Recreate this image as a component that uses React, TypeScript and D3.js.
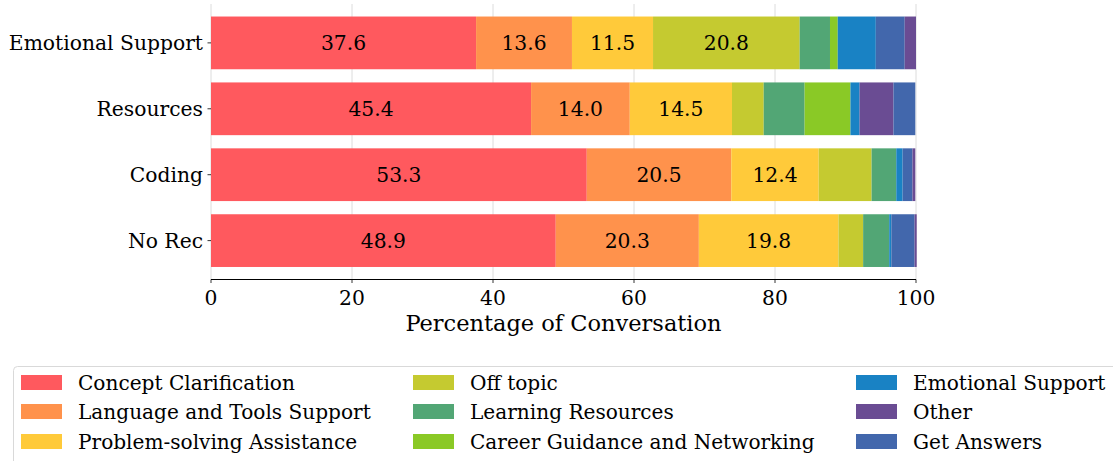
import React from 'react';
import * as d3 from 'd3';

// 행(카테고리) - 위에서 아래 순서
const categories = ['Emotional Support', 'Resources', 'Coding', 'No Rec'];

// 시리즈 이름과 색
const seriesNames = [
  'Concept Clarification',
  'Language and Tools Support',
  'Problem-solving Assistance',
  'Off topic',
  'Learning Resources',
  'Career Guidance and Networking',
  'Emotional Support',
  'Other',
  'Get Answers',
];
const seriesColors = ['#ff595e', '#ff924c', '#ffca3a', '#c5ca30', '#52a675', '#8ac926', '#1982c4', '#6a4c93', '#4267ac'];

// 시리즈별 값 (categories 순서)
const conceptClarification = [37.6, 45.4, 53.3, 48.9];
const languageTools = [13.6, 14.0, 20.5, 20.3];
const problemSolving = [11.5, 14.5, 12.4, 19.8];
const offTopic = [20.8, 4.5, 7.5, 3.5];
const learningResources = [4.3, 5.8, 3.5, 3.7];
const careerGuidance = [1.1, 6.5, 0, 0];
const emotionalSupport = [5.4, 1.3, 0.9, 0.3];
const other = [1.6, 4.8, 0.4, 0.3];
const getAnswers = [4.1, 3.1, 1.4, 3.3];

const seriesValues = [
  conceptClarification,
  languageTools,
  problemSolving,
  offTopic,
  learningResources,
  careerGuidance,
  emotionalSupport,
  other,
  getAnswers,
];

// 행마다 쌓는 순서 (seriesNames 인덱스)
const stackOrder = [
  [0, 1, 2, 3, 4, 5, 6, 8, 7],
  [0, 1, 2, 3, 4, 5, 6, 7, 8],
  [0, 1, 2, 3, 4, 5, 6, 8, 7],
  [0, 1, 2, 3, 4, 5, 6, 8, 7],
];

const xTicks = [0, 20, 40, 60, 80, 100];

// 범례 열 배치
const legendColumns = [
  [0, 1, 2],
  [3, 4, 5],
  [6, 7, 8],
];

const FONT = '"DejaVu Serif", serif';
const FS = 20.3;
const LEGEND_FS = 20.1;

export default function App() {
  const width = 1113;
  const height = 461;

  const left = 211;
  const right = 916;
  const top = 4;
  const bottom = 279.5;

  const x = d3.scaleLinear().domain([0, 100]).range([left, right]);
  // 행 인덱스: 0 = 맨 아래
  const y = d3.scaleLinear().domain([-0.59, 3.59]).range([bottom, top]);
  const rowStep = y(0) - y(1);
  const barH = rowStep * 0.8;

  const rows = categories.map((cat, ri) => {
    const yIndex = categories.length - 1 - ri;
    const cy = y(yIndex);
    let acc = 0;
    const segs = stackOrder[ri].map((si) => {
      const v = seriesValues[si][ri];
      const s = { si, x0: acc, x1: acc + v, v };
      acc += v;
      return s;
    });
    return { cat, cy, segs };
  });

  const legendX = [21, 413, 856];
  const legendY = [382.5, 411.5, 441.5];

  return (
    <div style={{ position: 'absolute', left: 0, top: 0 }}>
      <svg width={width} height={height} style={{ display: 'block', fontFamily: FONT }}>
        <rect width={width} height={height} fill="#fff" />

        {/* 그리드 */}
        {xTicks.map((t) => (
          <line key={`g${t}`} x1={x(t)} x2={x(t)} y1={top} y2={bottom} stroke="#dcdcdc" strokeWidth={1} />
        ))}

        {/* 막대 */}
        {rows.map((r) => (
          <g key={r.cat}>
            {r.segs.map((s) =>
              s.v > 0 ? (
                <rect
                  key={s.si}
                  x={x(s.x0)}
                  y={r.cy - barH / 2}
                  width={x(s.x1) - x(s.x0)}
                  height={barH}
                  fill={seriesColors[s.si]}
                />
              ) : null,
            )}
            {r.segs
              .filter((s) => s.v >= 10)
              .map((s) => (
                <text
                  key={`l${s.si}`}
                  x={(x(s.x0) + x(s.x1)) / 2}
                  y={r.cy}
                  textAnchor="middle"
                  dominantBaseline="central"
                  fontSize={FS}
                  fill="#000">
                  {s.v.toFixed(1)}
                </text>
              ))}
            {/* y 눈금 */}
            <line x1={left - 3.5} x2={left} y1={r.cy} y2={r.cy} stroke="#000" strokeWidth={0.8} />
            <text x={left - 8} y={r.cy} textAnchor="end" dominantBaseline="central" fontSize={FS} fill="#000">
              {r.cat}
            </text>
          </g>
        ))}

        {/* x 축 */}
        <line x1={left} x2={right} y1={bottom} y2={bottom} stroke="#000" strokeWidth={1} />
        {xTicks.map((t) => (
          <g key={`t${t}`}>
            <line x1={x(t)} x2={x(t)} y1={bottom} y2={bottom + 3.5} stroke="#000" strokeWidth={0.8} />
            <text x={x(t)} y={bottom + 18} textAnchor="middle" dominantBaseline="central" fontSize={FS} fill="#000">
              {t}
            </text>
          </g>
        ))}
        <text
          x={(left + right) / 2}
          y={323}
          textAnchor="middle"
          dominantBaseline="central"
          fontSize={22.5}
          fill="#000">
          Percentage of Conversation
        </text>

        {/* 범례 */}
        <rect x={13.5} y={366.5} width={1110} height={110} rx={4} fill="#fff" stroke="#d9d9d9" strokeWidth={1} />
        {legendColumns.map((col, ci) =>
          col.map((si, ri) => (
            <g key={`lg${si}`}>
              <rect x={legendX[ci]} y={legendY[ri] - 7.5} width={41} height={15} fill={seriesColors[si]} />
              <text
                x={legendX[ci] + 57}
                y={legendY[ri]}
                dominantBaseline="central"
                fontSize={LEGEND_FS}
                fill="#000">
                {seriesNames[si]}
              </text>
            </g>
          )),
        )}
      </svg>
    </div>
  );
}
